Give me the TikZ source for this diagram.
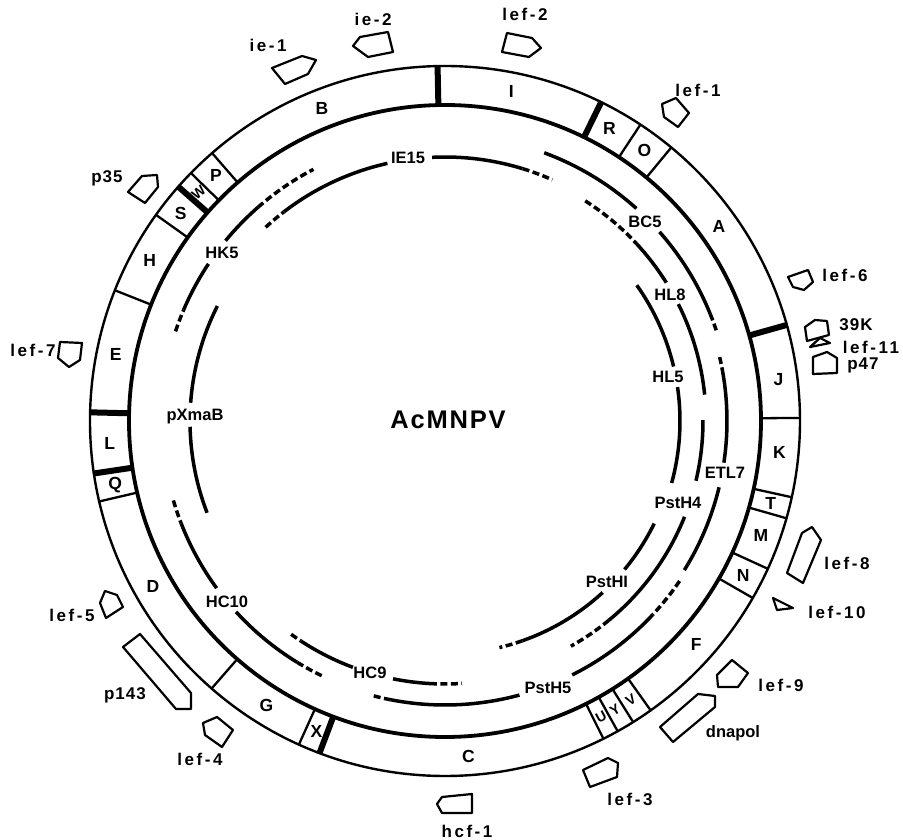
\documentclass[tikz,border=0pt]{standalone}
\usepackage{fontspec}
\setmainfont{Liberation Sans}
\newfontfamily\spfont[LetterSpace=15]{Liberation Sans}
\newfontfamily\smsp[LetterSpace=6]{Liberation Sans}
\newfontfamily\bigsp[LetterSpace=7]{Liberation Sans}
\newcommand\clonearc[4][clone]{\draw[#1] (#3:#2pt) arc[start angle=#3, end angle=#4, radius=#2pt];}
\begin{document}
\begin{tikzpicture}[x=1pt,y=1pt,
  bandlbl/.style={font=\bfseries\fontsize{17.5}{17.5}\selectfont, inner sep=0pt},
  smlbl/.style={font=\bfseries\fontsize{14}{14}\selectfont, inner sep=0pt},
  inlbl/.style={font=\bfseries\fontsize{16.5}{16.5}\selectfont, inner sep=0pt},
  genelbl/.style={font=\spfont\bfseries\fontsize{17}{17}\selectfont, inner sep=0pt},
  genelblb/.style={font=\smsp\bfseries\fontsize{17}{17}\selectfont, inner sep=0pt},
  gene/.style={draw, line width=2.2pt, line join=round},
  clone/.style={line width=3.5pt},
  unsure/.style={line width=3.5pt, dash pattern=on 7pt off 3.5pt},
  bnd/.style={line width=2.3pt},
  thickbnd/.style={line width=6pt}]
\useasboundingbox (-445,-419) rectangle (458,421);
% genome band
\draw[line width=2.4pt] (0,0) circle[radius=355pt];
\draw[line width=3.8pt] (0,0) circle[radius=316pt];
\foreach \a in {56.6,50.4,0.5,-12.4,-15.9,-24.6,-29.9,-54.6,-58,-60.9,-63.5,245.7,228.9,193.1,158.4,144.5,135.7,131}
  \draw[bnd] (\a:316pt) -- (\a:355pt);
\foreach \a in {91.2,63.9,15.7,249.3,188.5,178.6,138.7}
  \draw[thickbnd] (\a:315pt) -- (\a:356pt);
% band fragment letters
\foreach \a/\t in {111.5/B,78.6/I,60.7/R,53.6/O,35.4/A,7/J,-5.3/K,-14.2/T,-19.9/M,-27.4/N,-41.6/F,-86/C,247.5/X,237.9/G,209.6/D,191/Q,183.8/L,168.6/E,151.5/H,141.9/S,133/P}
  \node[bandlbl] (seg\t) at (\a:336pt) {\t};
\node[smlbl, rotate=40] (segW) at (137.2:336pt) {W};
\node[smlbl, rotate=32] (segV) at (-56.3:335pt) {V};
\node[smlbl, rotate=32] (segY) at (-59.5:335pt) {Y};
\node[smlbl, rotate=28] (segU) at (-62.2:335pt) {U};
% outer ring of clones
\clonearc[unsure]{284}{161.6}{156.9}
\clonearc{284}{156.9}{146.4}
\clonearc{284}{140.6}{131.2}
\clonearc[unsure]{284}{131.2}{117.6}
\clonearc{286}{69.7}{48}
\clonearc{286}{41.4}{22}
\clonearc[unsure]{286}{22}{18.2}
\clonearc[unsure]{282}{13.1}{10}
\clonearc{282}{10}{-8.5}
\clonearc{282}{-13.6}{-30.5}
\clonearc[unsure]{282}{-30.5}{-32}
\clonearc[unsure]{284}{-34.3}{-43}
\clonearc{284}{-43}{-63.4}
\clonearc{284}{-74.8}{-101}
\clonearc[unsure]{284}{-101}{-104.7}
\clonearc[unsure]{283}{196.3}{201.2}
\clonearc{283}{201.2}{216.2}
\clonearc{283}{222.4}{238.5}
\clonearc[unsure]{283}{238.5}{244.8}
% middle ring
\clonearc[unsure]{264}{132.8}{127.6}
\clonearc{264}{127.6}{102.6}
\clonearc{264}{92.8}{72.9}
\clonearc[unsure]{264}{72.9}{66}
\clonearc[unsure]{261}{57.5}{42.8}
\clonearc{261}{42.8}{32}
\clonearc{261}{26.6}{5.8}
\clonearc{258}{0.2}{-13.4}
\clonearc{258}{-21.8}{-50.6}
\clonearc[unsure]{258}{-50.6}{-60.8}
\clonearc[unsure]{263}{234.2}{236.8}
\clonearc{263}{236.8}{249.5}
\clonearc{263}{258.6}{266.7}
\clonearc[unsure]{263}{266.7}{273.7}
\clonearc{255}{153.2}{175.9}
\clonearc{255}{181.3}{201.1}
% inner ring
\clonearc{235}{35.3}{13.4}
\clonearc{235}{8.3}{-15.3}
\clonearc{233}{-26.1}{-39.6}
\clonearc{233}{-47.4}{-70.6}
\clonearc[unsure]{233}{-70.6}{-76.5}
% labels and genes in image coordinates
\begin{scope}[shift={(-445,421)}, yscale=-1]
\node[font=\bigsp\bfseries\fontsize{25.5}{25.5}\selectfont, inner sep=0pt] (title) at (448,420) {AcMNPV};
\node[inlbl] (cHK5) at (222,253) {HK5};
\node[inlbl] (cBC5) at (645,222) {BC5};
\node[inlbl] (cETL7) at (725,473) {ETL7};
\node[inlbl] (cPstH5) at (548,688) {PstH5};
\node[inlbl] (cHC10) at (227,602) {HC10};
\node[inlbl] (cIE15) at (408,158) {IE15};
\node[inlbl] (cHL8) at (670,295) {HL8};
\node[inlbl] (cPstH4) at (678,503) {PstH4};
\node[inlbl] (cHC9) at (370,673) {HC9};
\node[inlbl] (cpXmaB) at (195,417) {pXmaB};
\node[inlbl] (cHL5) at (668,377) {HL5};
\node[inlbl] (cPstHI) at (607,582) {PstHI};
% gene symbols
\draw[gene] (272,68) -- (302,56) -- (316,60) -- (308,74) -- (285,84) -- cycle;
\draw[gene] (353,46) -- (360,37) -- (388,32) -- (393,52) -- (368,57) -- cycle;
\draw[gene] (502,52) -- (507,33) -- (532,38) -- (541,48) -- (529,57) -- cycle;
\draw[gene] (662,104) -- (676,98) -- (689,113) -- (678,127) -- (664,117) -- cycle;
\draw[gene] (788,277) -- (808,270) -- (813,282) -- (804,290) -- (793,287) -- cycle;
\draw[gene] (805,327) -- (815,320) -- (827,321) -- (829,335) -- (807,341) -- cycle;
\draw[gene] (810,347) -- (830,343) -- (820,338) -- cycle;
\draw[gene] (813,357) -- (827,352) -- (837,358) -- (837,373) -- (813,374) -- cycle;
\draw[gene] (787,573) -- (802,533) -- (812,527) -- (821,540) -- (803,583) -- cycle;
\draw[gene] (773,598) -- (793,608) -- (777,610) -- cycle;
\draw[gene] (717,675) -- (732,660) -- (748,673) -- (738,687) -- (718,687) -- cycle;
\draw[gene] (660,727) -- (698,694) -- (715,696) -- (715,707) -- (673,742) -- cycle;
\draw[gene] (583,770) -- (608,758) -- (618,763) -- (617,777) -- (590,787) -- cycle;
\draw[gene] (437,804) -- (442,797) -- (472,794) -- (472,813) -- (442,813) -- cycle;
\draw[gene] (203,723) -- (217,717) -- (233,730) -- (222,747) -- (205,735) -- cycle;
\draw[gene] (123,647) -- (140,634) -- (191,693) -- (191,709) -- (176,709) -- cycle;
\draw[gene] (100,603) -- (105,591) -- (117,595) -- (123,607) -- (106,618) -- cycle;
\draw[gene] (60,342) -- (82,343) -- (80,360) -- (69,367) -- (58,358) -- cycle;
\draw[gene] (128,192) -- (142,176) -- (157,175) -- (158,187) -- (145,203) -- cycle;
% gene names
\node[genelbl] (gie1) at (268,45) {ie-1};
\node[genelbl] (gie2) at (373,19) {ie-2};
\node[genelbl] (glef2) at (525,14) {lef-2};
\node[genelbl] (glef1) at (698,90) {lef-1};
\node[genelbl] (glef6) at (845,275) {lef-6};
\node[genelblb] (g39K) at (856,325) {39K};
\node[genelbl] (glef11) at (871,347) {lef-11};
\node[genelblb] (gp47) at (863,365) {p47};
\node[genelbl] (glef8) at (847,563) {lef-8};
\node[genelbl] (glef10) at (837,612) {lef-10};
\node[genelbl] (glef9) at (781,685) {lef-9};
\node[inlbl] (gdnapol) at (733,733) {dnapol};
\node[genelbl] (glef3) at (630,799) {lef-3};
\node[genelbl] (ghcf1) at (467,831) {hcf-1};
\node[genelbl] (glef4) at (200,759) {lef-4};
\node[genelblb] (gp143) at (125,695) {p143};
\node[genelbl] (glef5) at (72,615) {lef-5};
\node[genelbl] (glef7) at (33,350) {lef-7};
\node[genelblb] (gp35) at (107,178) {p35};
\end{scope}
\end{tikzpicture}
\end{document}
